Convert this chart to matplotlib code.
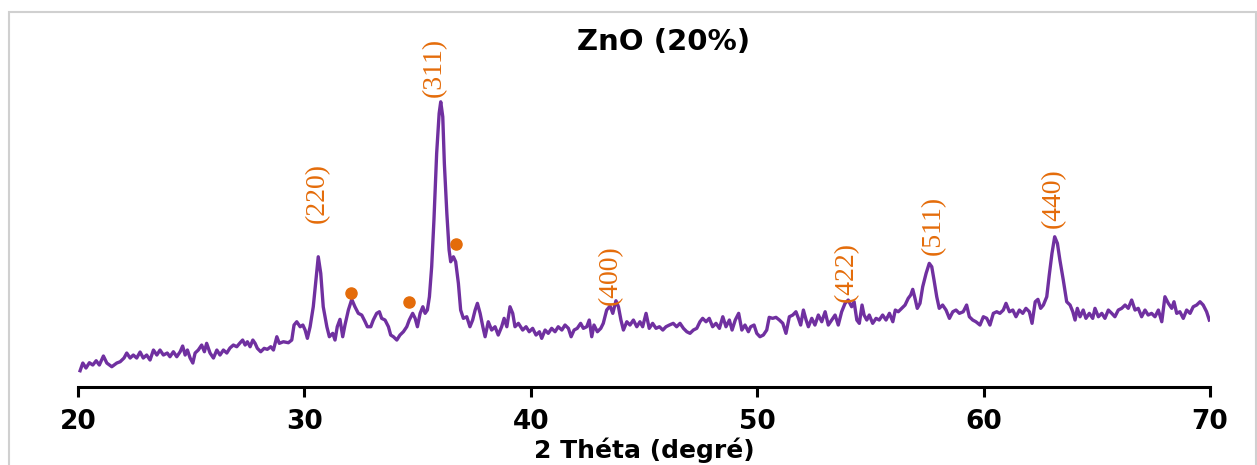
import matplotlib.pyplot as plt
from matplotlib.patches import Rectangle

# XRD scan (2 theta in degrees, intensity in a.u.)
two_theta = [
    20.09, 20.21, 20.35, 20.50, 20.65, 20.80, 20.94, 21.12, 21.27, 21.49,
    21.71, 21.86, 22.03, 22.15, 22.30, 22.44, 22.59, 22.74, 22.88, 23.03,
    23.18, 23.33, 23.48, 23.62, 23.77, 23.94, 24.06, 24.21, 24.36, 24.51,
    24.62, 24.73, 24.83, 24.95, 25.07, 25.17, 25.31, 25.46, 25.58, 25.68,
    25.83, 25.98, 26.13, 26.27, 26.42, 26.57, 26.71, 26.86, 27.01, 27.16,
    27.27, 27.38, 27.48, 27.60, 27.72, 27.82, 27.92, 28.07, 28.22, 28.36,
    28.51, 28.63, 28.78, 28.89, 29.07, 29.29, 29.44, 29.54, 29.66, 29.81,
    29.93, 30.03, 30.13, 30.25, 30.39, 30.51, 30.61, 30.72, 30.83, 30.99,
    31.10, 31.25, 31.35, 31.45, 31.57, 31.69, 31.79, 31.94, 32.09, 32.23,
    32.38, 32.53, 32.68, 32.78, 32.93, 33.04, 33.19, 33.31, 33.41, 33.56,
    33.71, 33.81, 33.93, 34.08, 34.22, 34.37, 34.52, 34.63, 34.78, 34.89,
    34.99, 35.11, 35.23, 35.33, 35.43, 35.52, 35.62, 35.72, 35.84, 35.95,
    36.02, 36.11, 36.18, 36.29, 36.39, 36.46, 36.58, 36.68, 36.80, 36.90,
    37.02, 37.17, 37.31, 37.43, 37.54, 37.64, 37.76, 37.88, 37.98, 38.12,
    38.27, 38.42, 38.56, 38.71, 38.82, 38.94, 39.08, 39.20, 39.30, 39.45,
    39.64, 39.79, 39.93, 40.08, 40.23, 40.38, 40.48, 40.63, 40.77, 40.92,
    41.07, 41.21, 41.37, 41.51, 41.66, 41.78, 41.91, 42.05, 42.20, 42.32,
    42.47, 42.58, 42.69, 42.79, 42.94, 43.09, 43.20, 43.35, 43.50, 43.62,
    43.76, 43.87, 43.98, 44.09, 44.24, 44.38, 44.53, 44.68, 44.82, 44.94,
    45.09, 45.23, 45.38, 45.53, 45.68, 45.83, 45.97, 46.12, 46.29, 46.44,
    46.59, 46.74, 46.89, 47.03, 47.18, 47.33, 47.47, 47.59, 47.74, 47.88,
    48.03, 48.18, 48.33, 48.48, 48.62, 48.77, 48.89, 49.03, 49.18,
    49.32, 49.46, 49.61, 49.71, 49.86, 49.98, 50.12, 50.27, 50.42, 50.53,
    50.68, 50.83, 50.98, 51.13, 51.27, 51.42, 51.57, 51.71, 51.82, 51.92,
    52.04, 52.16, 52.26, 52.41, 52.55, 52.70, 52.85, 53.00, 53.14, 53.29,
    53.44, 53.58, 53.73, 53.88, 54.02, 54.17, 54.28, 54.40, 54.51, 54.63,
    54.72, 54.84, 54.95, 55.10, 55.25, 55.39, 55.54, 55.69, 55.84, 55.99,
    56.10, 56.23, 56.38, 56.53, 56.67, 56.78, 56.87, 56.97, 57.07, 57.19,
    57.31, 57.46, 57.60, 57.71, 57.81, 57.93, 58.04, 58.19, 58.34, 58.49,
    58.64, 58.78, 58.93,
    59.10, 59.25, 59.37, 59.52, 59.66, 59.84, 59.99, 60.14, 60.28, 60.43,
    60.58, 60.72, 60.87, 60.99, 61.14, 61.29, 61.43, 61.58, 61.73, 61.87,
    62.02, 62.14, 62.28, 62.40, 62.52, 62.64, 62.79, 62.90, 63.02, 63.14,
    63.26, 63.37, 63.52, 63.67, 63.82, 63.94, 64.04, 64.14, 64.26, 64.40,
    64.52, 64.67, 64.82, 64.92, 65.07, 65.22, 65.36, 65.51, 65.66, 65.80,
    65.95, 66.10, 66.25, 66.39, 66.54, 66.69, 66.83, 66.98, 67.13, 67.27,
    67.42, 67.57, 67.72, 67.87, 68.01, 68.16, 68.31, 68.41, 68.53, 68.67,
    68.82, 68.97, 69.12, 69.26, 69.41, 69.56, 69.70, 69.85, 69.97,
]

counts = [
    16.3, 24, 19, 24.3, 22, 26.3, 22, 31, 24, 20.3,
    24, 25.3, 29, 34, 29, 32, 29, 35, 29, 32,
    27, 37, 32, 37, 32, 34, 30.3, 35.3, 30.3, 35.3,
    41, 32, 37, 29, 24, 34, 37, 42, 35.3, 43.7,
    34, 29, 37, 32, 37, 34, 39, 42, 40.3, 44.3,
    47, 42, 45.3, 40.3, 47, 43.7, 38.7, 35.3, 38.7, 37.7,
    40.3, 37, 50.3, 43.7, 45.3, 44.3, 47, 62, 65.3, 60.3,
    62, 57, 48.7, 60.3, 80.3, 107, 130.3, 113.7, 80.3, 60.3,
    50.3, 53.7, 47, 60.3, 67.7, 50.3, 62, 77, 87.7, 80.3,
    73.7, 72, 65.3, 60.3, 60.3, 67, 73.7, 75.3, 68.7, 67,
    60.3, 52, 50.3, 47, 52, 55.3, 60.3, 67, 73.7, 68.7,
    60.3, 73.7, 80.3, 73.7, 77, 90.3, 120.3, 167, 233.7, 273.7,
    285.3, 270.3, 223.7, 173.7, 137, 125.3, 130.3, 125.3, 103.7, 77,
    68.7, 70.3, 60.3, 67, 77, 83.7, 73.7, 60.3, 50.3, 65.3,
    57, 60.3, 52, 60.3, 68.7, 60.3, 80.3, 73.7, 60.3, 63.7,
    57, 60.3, 55.3, 58.7, 52, 55.3, 48.7, 57, 53.7, 58.7,
    55.3, 60.3, 57, 62, 58.7, 50.3, 57, 58.7, 63.7, 58.7,
    60.3, 67, 50.3, 62, 55.3, 58.7, 63.7, 77, 81, 73.7,
    86.3, 80.3, 67, 57, 65.3, 62, 67, 60.3, 65.3, 60.3,
    73.7, 58.7, 63.7, 58.7, 60.3, 57, 60.3, 62, 63.7, 60.3,
    63.7, 58.7, 55.3, 53.7, 57, 58.7, 65.3, 68.7, 65.3, 68.7,
    60.3, 63.7, 58.7, 70.3, 60.3, 67, 57, 67, 73.7,
    57, 62, 55.3, 60.3, 62, 53.7, 50.3, 52, 57, 69.7,
    68.7, 69.7, 67, 63.7, 53.7, 70.3, 72, 75.3, 68.7, 62,
    77, 67, 60.3, 68.7, 62, 72, 65.3, 75.3, 62, 67,
    72, 62, 75.3, 83.7, 87, 80.3, 85.3, 67, 63.7, 82,
    72, 67, 72, 63.7, 68.7, 67, 72, 67, 73.7, 65.3,
    77, 75.3, 78.7, 82, 88.7, 92, 97.7, 88.7, 78.7, 83.7,
    100.3, 113.7, 123.7, 120.3, 107, 90.3, 78.7, 82, 77, 68.7,
    75.3, 77, 73.7,
    75.3, 82, 70.3, 67, 65.3, 62, 70.3, 68.7, 62, 73.7,
    75.3, 73.7, 77, 83.7, 75.3, 77, 70.3, 77, 73.7, 78.7,
    75.3, 63.7, 85.3, 87.7, 78.7, 82, 90.3, 112, 133.7, 150.3,
    143.7, 127, 107, 85.3, 82, 75.3, 67, 78.7, 70.3, 77,
    68.7, 73.7, 68.7, 78.7, 70.3, 73.7, 68.7, 77, 73.7, 70.3,
    77, 78.7, 82, 78.7, 87, 77, 78.7, 70.3, 77, 72,
    73.7, 70.3, 77, 65.3, 90.3, 83.7, 78.7, 85.3, 73.7, 75.3,
    68.7, 77, 73.7, 80.3, 82, 85.3, 82, 75.3, 67,
]

# Miller indices written above the peaks
hkl_labels = ['(220)', '(311)', '(400)', '(422)', '(511)', '(440)']
hkl_x = [30.57, 35.72, 43.53, 53.92, 57.80, 63.10]
hkl_y = [164, 290, 82, 85, 132, 159]

# secondary phase markers
dot_x = [32.04, 34.62, 36.70]
dot_y = [93.7, 84.7, 142.7]

purple = '#7030A0'
orange = '#E46C0A'

fig = plt.figure(figsize=(12.57, 4.65), dpi=100)
ax = fig.add_axes([0.0621, 0.1677, 0.9005, 0.789])

ax.plot(two_theta, counts, color=purple, lw=2.4)
ax.plot(dot_x, dot_y, 'o', color=orange, ms=8, ls='none')

for lab, x, y in zip(hkl_labels, hkl_x, hkl_y):
    ax.text(x, y, lab, rotation=90, ha='center', va='bottom', color=orange,
            family='Liberation Serif', fontsize=20)

ax.set_xlim(20, 70)
ax.set_ylim(0, 367)
for s in ['left', 'right', 'top']:
    ax.spines[s].set_visible(False)
ax.spines['bottom'].set_linewidth(2.2)
ax.set_yticks([])
ax.set_xticks([20, 30, 40, 50, 60, 70])
ax.tick_params(axis='x', direction='out', length=7, width=2.2, pad=9, labelsize=19)
for t in ax.get_xticklabels():
    t.set_fontweight('bold')

ax.set_xlabel('2 Théta (degré)', fontsize=18, fontweight='bold')
ax.xaxis.set_label_coords(0.5, -0.138)

fig.text(0.5275, 0.9097, 'ZnO (20%)', ha='center', va='center',
         fontsize=21, fontweight='bold')

# light grey chart-area border
fig.patches.append(Rectangle((8.5 / 1257, -0.05), (1256 - 8.5) / 1257, (465 - 11.5) / 465 + 0.05,
                             transform=fig.transFigure, fill=False,
                             edgecolor='#d0d0d0', lw=1.5))

fig.savefig('out.png', dpi=100)
